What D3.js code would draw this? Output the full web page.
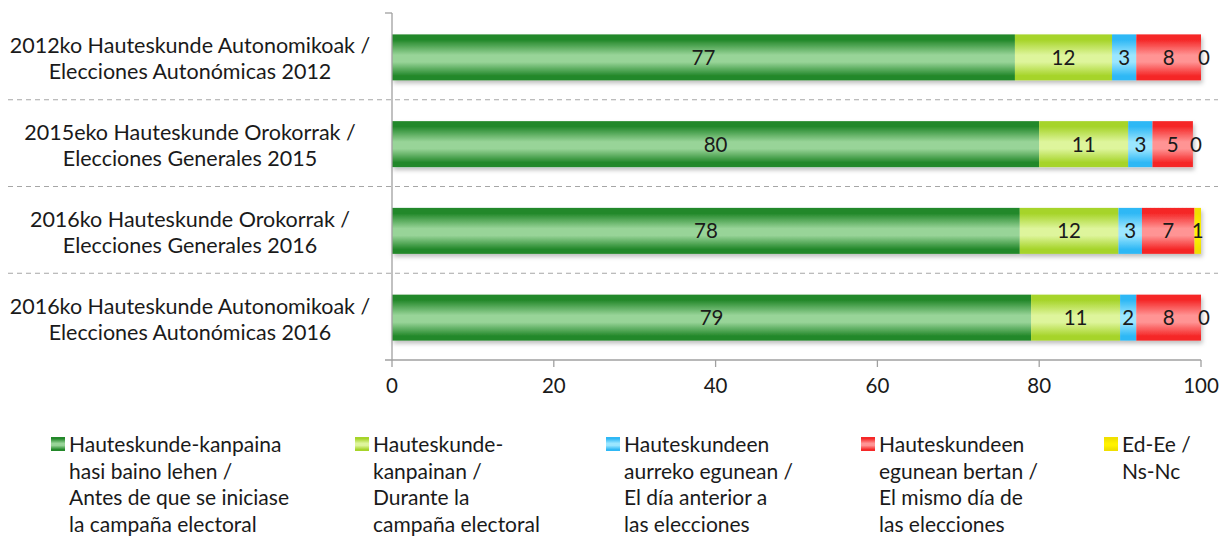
<!DOCTYPE html>
<html>
<head>
<meta charset="utf-8">
<script src="https://cdn.jsdelivr.net/npm/d3@7"></script>
<style>
  body { margin: 0; background: #fff; }
  text { font-family: Lato, "Open Sans", sans-serif; fill: #1a1a1a; }
</style>
</head>
<body>
<div id="container"></div>
<script>
const categories = [
  ["2012ko Hauteskunde Autonomikoak /", "Elecciones Autonómicas 2012"],
  ["2015eko Hauteskunde Orokorrak /", "Elecciones Generales 2015"],
  ["2016ko Hauteskunde Orokorrak /", "Elecciones Generales 2016"],
  ["2016ko Hauteskunde Autonomikoak /", "Elecciones Autonómicas 2016"]
];
const seriesNames = [
  ["Hauteskunde-kanpaina", "hasi baino lehen /", "Antes de que se iniciase", "la campaña electoral"],
  ["Hauteskunde-", "kanpainan /", "Durante la", "campaña electoral"],
  ["Hauteskundeen", "aurreko egunean /", "El día anterior a", "las elecciones"],
  ["Hauteskundeen", "egunean bertan /", "El mismo día de", "las elecciones"],
  ["Ed-Ee /", "Ns-Nc"]
];
// labels show rounded values; bar lengths
const antes    = [77, 80, 77.6, 79];
const durante  = [12, 11, 12.2, 11];
const anterior = [3, 3, 2.9, 2];
const mismo    = [8, 5, 6.5, 8];
const nsnc     = [0, 0, 0.8, 0];
const xTicks = [0, 20, 40, 60, 80, 100];

const series = [antes, durante, anterior, mismo, nsnc];
// edge / middle colours for each series gradient
const palette = [
  ["#23882a", "#98d498"],
  ["#a6d42a", "#def59c"],
  ["#2fb8f5", "#9be6ff"],
  ["#f52828", "#ff9494"],
  ["#f0e000", "#fff200"]
];

const width = 1221, height = 540;
const svg = d3.select("#container").append("svg")
  .attr("width", width).attr("height", height);

const defs = svg.append("defs");
palette.forEach((c, i) => {
  const g = defs.append("linearGradient").attr("id", "g" + i)
    .attr("x1", 0).attr("y1", 0).attr("x2", 0).attr("y2", 1);
  [[0, c[0]], [0.12, c[0]], [0.45, c[1]], [0.6, c[1]], [0.9, c[0]], [1, c[0]]]
    .forEach(s => g.append("stop").attr("offset", s[0]).attr("stop-color", s[1]));
});
defs.append("filter").attr("id", "shadow")
  .attr("x", "-5%").attr("y", "-20%").attr("width", "110%").attr("height", "160%")
  .append("feDropShadow")
  .attr("dx", 1.5).attr("dy", 3).attr("stdDeviation", 2)
  .attr("flood-color", "#000").attr("flood-opacity", 0.25);

const x = d3.scaleLinear().domain([0, 100]).range([392, 1201]);
const y = d3.scaleBand().domain(d3.range(categories.length))
  .range([13, 360]).paddingInner(0.47).paddingOuter(0.235);

// separators between categories
const bounds = d3.range(1, categories.length).map(i => y(i) - y.step() * y.paddingInner() / 2);
svg.append("g").selectAll("line").data(bounds).join("line")
  .attr("x1", 8).attr("x2", 1218).attr("y1", d => d).attr("y2", d => d)
  .attr("stroke", "#a6a6a6").attr("stroke-width", 1.2).attr("stroke-dasharray", "5,4");

// stacked data
const rows = categories.map((c, i) => {
  let acc = 0;
  return series.map((s, k) => {
    const d = { row: i, k, x0: acc, x1: acc + s[i], v: s[i] };
    acc += s[i];
    return d;
  });
});

const barG = svg.append("g");
rows.forEach(r => {
  const g = barG.append("g").attr("filter", "url(#shadow)");
  g.selectAll("rect").data(r).join("rect")
    .attr("x", d => x(d.x0))
    .attr("y", d => y(d.row) + 1)
    .attr("width", d => x(d.x1) - x(d.x0))
    .attr("height", y.bandwidth())
    .attr("fill", d => `url(#g${d.k})`);
});

// value labels
svg.append("g").selectAll("text").data(rows.flat()).join("text")
  .attr("x", d => (x(d.x0) + x(d.x1)) / 2 + (d.v === 0 ? 3 : 0))
  .attr("y", d => y(d.row) + 1 + y.bandwidth() / 2)
  .attr("dy", "0.36em")
  .attr("text-anchor", "middle")
  .attr("font-size", 20.5)
  .text(d => Math.round(d.v));

// axes
const axisColor = "#a0a0a0";
const ax = svg.append("g").attr("stroke", axisColor).attr("stroke-width", 1.3);
ax.append("line").attr("x1", x(0)).attr("x2", x(0)).attr("y1", 13).attr("y2", 360);
ax.append("line").attr("x1", x(0) - 7).attr("x2", x(0)).attr("y1", 13).attr("y2", 13);
ax.append("line").attr("x1", x(0) - 7).attr("x2", x(100)).attr("y1", 360).attr("y2", 360);
ax.selectAll(".tk").data(xTicks).join("line")
  .attr("x1", d => x(d)).attr("x2", d => x(d)).attr("y1", 360).attr("y2", 367);

svg.append("g").selectAll("text").data(xTicks).join("text")
  .attr("x", d => x(d)).attr("y", 393)
  .attr("text-anchor", "middle").attr("font-size", 20.5)
  .text(d => d);

// category labels
const cat = svg.append("g").selectAll("text").data(categories).join("text")
  .attr("text-anchor", "middle").attr("font-size", 21.5)
  .attr("transform", (d, i) => `translate(190,${y(i) + y.bandwidth() / 2 + 1})`);
cat.selectAll("tspan").data(d => d).join("tspan")
  .attr("x", 0).attr("y", (d, j) => j === 0 ? -4 : 22)
  .text(d => d);

// legend
const legX = [51, 355, 606, 861, 1104];
const leg = svg.append("g").selectAll("g").data(seriesNames).join("g")
  .attr("transform", (d, i) => `translate(${legX[i]},437)`);
leg.append("rect").attr("width", 14).attr("height", 14)
  .attr("fill", (d, i) => `url(#g${i})`);
leg.append("text").attr("font-size", 21)
  .selectAll("tspan").data(d => d).join("tspan")
  .attr("x", 18).attr("y", (d, j) => 15 + j * 26.5)
  .text(d => d);
</script>
</body>
</html>
